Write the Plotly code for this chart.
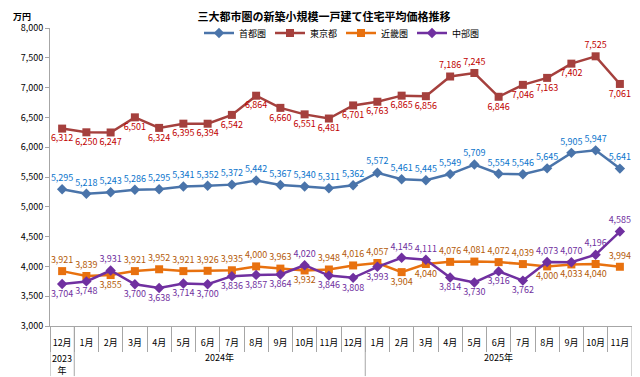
import plotly.graph_objects as go

months = ["12月"] + [f"{m}月" for m in range(1, 13)] + [f"{m}月" for m in range(1, 12)]
year_labels = ["2023<br>年", "2024年", "2025年"]
year_spans = [(0, 0), (1, 12), (13, 23)]  # index ranges of months per year

shutoken = [5295, 5218, 5243, 5286, 5295, 5341, 5352, 5372, 5442, 5367, 5340, 5311,
            5362, 5572, 5461, 5445, 5549, 5709, 5554, 5546, 5645, 5905, 5947, 5641]
tokyo = [6312, 6250, 6247, 6501, 6324, 6395, 6394, 6542, 6864, 6660, 6551, 6481,
         6701, 6763, 6865, 6856, 7186, 7245, 6846, 7046, 7163, 7402, 7525, 7061]
kinki = [3921, 3839, 3855, 3921, 3952, 3921, 3926, 3935, 4000, 3963, 3932, 3948,
         4016, 4057, 3904, 4040, 4076, 4081, 4072, 4039, 4000, 4033, 4040, 3994]
chubu = [3704, 3748, 3931, 3700, 3638, 3714, 3700, 3836, 3857, 3864, 4020, 3846,
         3808, 3993, 4145, 4111, 3814, 3730, 3916, 3762, 4073, 4070, 4196, 4585]

n = len(months)
xs = list(range(n))

# label placement (style)
tokyo_above = {16, 17, 22}
kinki_below = {2, 10, 14, 15, 20, 21, 22}
chubu_above = {2, 10, 14, 15, 20, 21, 22, 23}
pos_shuto = ["top center"] * n
pos_tokyo = ["top center" if i in tokyo_above else "bottom center" for i in range(n)]
pos_kinki = ["bottom center" if i in kinki_below else "top center" for i in range(n)]
pos_chubu = ["top center" if i in chubu_above else "bottom center" for i in range(n)]

FONT = "Noto Sans CJK JP"
AXC = "#A6A6A6"

series = [
    ("首都圏", shutoken, "#4A74AA", "#0A74CC", "diamond", pos_shuto),
    ("東京都", tokyo, "#A5403D", "#C00000", "square", pos_tokyo),
    ("近畿圏", kinki, "#E8710F", "#B45A08", "square", pos_kinki),
    ("中部圏", chubu, "#7030A0", "#7030A0", "diamond", pos_chubu),
]

fig = go.Figure()
for name, vals, lc, tc, sym, pos in series:
    fig.add_trace(go.Scatter(
        x=xs, y=vals, name=name, mode="lines+markers+text",
        line=dict(color=lc, width=2.5),
        marker=dict(symbol=sym, size=8, color=lc),
        texttemplate="%{y:,}", textposition=pos,
        textfont=dict(family=FONT, size=9, color=tc),
        cliponaxis=False,
    ))

# page has an 8px body margin, so the figure is 632x369
W, H = 632, 369
fig.update_layout(
    width=W, height=H,
    margin=dict(l=42, r=8, t=20, b=51),
    paper_bgcolor="white", plot_bgcolor="white",
    font=dict(family=FONT, size=9, color="#000000"),
    title=dict(text="<b>三大都市圏の新築小規模一戸建て住宅平均価格推移</b>",
               x=0.5, xanchor="center", y=1 - 9 / H, yanchor="middle",
               font=dict(size=11, family=FONT, color="#000")),
    legend=dict(orientation="h", x=0.5, xanchor="center", y=0.983, yanchor="middle",
                font=dict(size=9, family=FONT), bgcolor="rgba(0,0,0,0)",
                itemwidth=30, entrywidth=26),
    showlegend=True,
)
fig.update_xaxes(
    range=[-0.5, n - 0.5], tickmode="array", tickvals=xs, ticktext=months,
    ticks="", ticklabelstandoff=8, automargin=False,
    showline=True, linecolor=AXC, linewidth=1, showgrid=False, zeroline=False,
    tickfont=dict(size=9, family=FONT, color="#000"),
    minor=dict(ticks="outside", tick0=0.5, dtick=1, ticklen=25, tickcolor=AXC,
               tickwidth=1, showgrid=False),
)
fig.update_yaxes(
    range=[3000, 8000], dtick=500, tickformat=",", showgrid=False, automargin=False,
    showline=True, linecolor=AXC, linewidth=1, ticks="outside", ticklen=4,
    tickcolor=AXC, zeroline=False,
    tickfont=dict(size=9, family=FONT, color="#000"),
)

# year level of the category axis: dividers and labels
boundaries = sorted({s - 0.5 for s, e in year_spans} | {e + 0.5 for s, e in year_spans})
for b in boundaries:
    fig.add_shape(type="line", xref="x", yref="paper", x0=b, x1=b, y0=0, y1=-0.168,
                  line=dict(color=AXC, width=1))
for lab, (s, e) in zip(year_labels, year_spans):
    fig.add_annotation(text=lab, xref="x", yref="paper", x=(s + e) / 2,
                       y=-0.105 if "<br>" not in lab else -0.128,
                       xanchor="center", yanchor="middle", showarrow=False,
                       font=dict(size=9, family=FONT, color="#000"))

fig.add_annotation(text="<b>万円</b>", xref="paper", yref="paper", x=-0.048, y=1 + 12 / 298,
                   xanchor="center", yanchor="middle", showarrow=False,
                   font=dict(size=9, family=FONT, color="#000"))

fig.write_html("out.html")
